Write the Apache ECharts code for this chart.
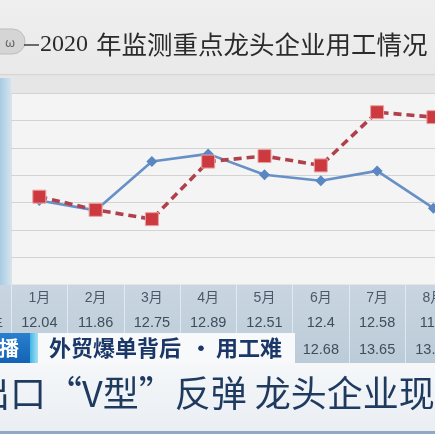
<!DOCTYPE html>
<html><head><meta charset="utf-8">
<script src="https://cdn.jsdelivr.net/npm/echarts@6/dist/echarts.min.js"></script>
<style>html,body{margin:0;padding:0;background:#ececec;overflow:hidden;}#c{width:470px;height:434px;}</style>
</head><body><div id="c"></div>
<script>
const months = ['1月','2月','3月','4月','5月','6月','7月','8月'];
const series2019 = [12.04, 11.86, 12.75, 12.89, 12.51, 12.4, 12.58, 11.9];
const series2020 = [12.11, 11.87, 11.7, 12.75, 12.85, 12.68, 13.65, 13.56];
const yMin = 10.5, yMax = 14, yStep = 0.5;
const titleYear = '2020';
const titleText = '年监测重点龙头企业用工情况';
const bannerTag = '播';
const bannerLeft = '外贸爆单背后';
const bannerRight = '用工难';
const captionText = '出口“V型”反弹 龙头企业现';

const CJK = '"Noto Sans CJK SC", sans-serif';
const labels2019 = series2019.map(String);
const labels2020 = series2020.map(String);
const gridLeft = 11.15, gridWidth = 450.4;
const W = 470;

const chart = echarts.init(document.getElementById('c'), null, {renderer: 'canvas'});
function valAxis(gi, data, margin, color) {
  return {type: 'category', gridIndex: gi, data: data, position: 'bottom', z: 3,
    axisLine: {show: false}, axisTick: {show: false}, splitLine: {show: false},
    axisLabel: {margin: margin, interval: 0, color: color, fontSize: 14.5,
      fontFamily: '"Liberation Sans", ' + CJK}};
}
chart.setOption({
  backgroundColor: '#ececec',
  animation: false,
  grid: [
    {left: gridLeft, top: 93, width: gridWidth, height: 192, show: true,
     backgroundColor: '#f4f4f4', borderColor: '#d9d9d9', borderWidth: 1, z: 0},
    {left: gridLeft, top: 285, width: gridWidth, height: 78, show: false}
  ],
  xAxis: [
    {type: 'category', gridIndex: 0, data: months, boundaryGap: true, z: 3,
     axisLine: {show: false}, axisTick: {show: false}, splitLine: {show: false},
     axisLabel: {margin: 6, interval: 0, color: '#4a5968', fontSize: 14, fontFamily: '"Liberation Sans", ' + CJK}},
    valAxis(0, labels2019, 31, '#3f4d5c'),
    valAxis(0, labels2020, 58, '#3f4d5c'),
    {type: 'category', gridIndex: 1, data: months, boundaryGap: true, z: 3,
     axisLine: {show: false}, axisTick: {show: false}, axisLabel: {show: false},
     splitLine: {show: true, interval: 0, lineStyle: {color: 'rgba(235,242,248,0.7)', width: 1}}}
  ],
  yAxis: [
    {type: 'value', gridIndex: 0, min: yMin, max: yMax, interval: yStep,
     axisLine: {show: false}, axisTick: {show: false}, axisLabel: {show: false},
     splitLine: {show: true, lineStyle: {color: '#d3d3d3', width: 1.2}}},
    {type: 'value', gridIndex: 1, show: false}
  ],
  series: [
    {type: 'line', name: '2019', xAxisIndex: 0, yAxisIndex: 0, data: series2019,
     symbol: 'diamond', symbolSize: 11,
     lineStyle: {color: '#6690c6', width: 2.6},
     itemStyle: {color: '#5a87c2'}, z: 3},
    {type: 'line', name: '2020', xAxisIndex: 0, yAxisIndex: 0, data: series2020,
     symbol: 'rect', symbolSize: 13,
     lineStyle: {color: '#b0414c', width: 3.6, type: [8, 5]},
     itemStyle: {color: '#cc3a40', borderColor: '#e9a3a3', borderWidth: 1}, z: 4}
  ],
  graphic: [
    {type: 'rect', z: 1, shape: {x: 0, y: 0, width: W, height: 74},
     style: {fill: new echarts.graphic.LinearGradient(0, 0, 0, 1, [{offset: 0, color: '#efefef'}, {offset: 1, color: '#e9e9e9'}])}},
    {type: 'rect', z: 1, shape: {x: 0, y: 74, width: W, height: 1.5}, style: {fill: '#d6d6d6'}},
    {type: 'rect', z: 1, shape: {x: 0, y: 76, width: W, height: 17}, style: {fill: '#e6e6e6'}},
    {type: 'rect', z: 1, shape: {x: 0, y: 78, width: 11, height: 255},
     style: {fill: new echarts.graphic.LinearGradient(0, 0, 1, 0, [{offset: 0, color: '#a9cbe3'}, {offset: 1, color: '#d2e3ef'}])}},
    {type: 'rect', z: 1, shape: {x: 0, y: 285, width: W, height: 78},
     style: {fill: new echarts.graphic.LinearGradient(0, 0, 0, 1, [{offset: 0, color: '#c9d6e1'}, {offset: 1, color: '#bccbd8'}])}},
    {type: 'rect', z: 5, shape: {x: -15, y: 29, width: 40, height: 25, r: 12.5},
     style: {fill: '#d5d5d5', stroke: '#bdbdbd', lineWidth: 1}},
    {type: 'text', z: 6, style: {x: 10, y: 42, text: 'ω', fill: '#666', fontSize: 13, align: 'center', verticalAlign: 'middle', fontFamily: CJK}},
    {type: 'line', z: 5, shape: {x1: 24, y1: 45, x2: 39, y2: 45}, style: {stroke: '#333', lineWidth: 1.4}},
    {type: 'text', z: 5, style: {x: 40, y: 45, text: titleYear, fill: '#2b2b2b', fontSize: 24,
      fontFamily: '"Liberation Serif", serif', verticalAlign: 'middle'}},
    {type: 'text', z: 5, style: {x: 96, y: 44, text: titleText, fill: '#2b2b2b', fontSize: 25.5,
      fontFamily: CJK, verticalAlign: 'middle'}},
    {type: 'text', z: 5, style: {x: -12, y: 323, text: '年', fill: '#3f4d5c', fontSize: 15, fontFamily: CJK, verticalAlign: 'middle'}},
    // banner
    {type: 'rect', z: 10, shape: {x: 0, y: 333, width: 30, height: 30},
     style: {fill: new echarts.graphic.LinearGradient(0, 0, 0, 1, [{offset: 0, color: '#2a7fcf'}, {offset: 1, color: '#1463b4'}])}},
    {type: 'rect', z: 10, shape: {x: 30, y: 333, width: 8, height: 30},
     style: {fill: new echarts.graphic.LinearGradient(0, 0, 1, 0, [{offset: 0, color: '#3fb6e6'}, {offset: 1, color: '#a8e0f3'}])}},
    {type: 'text', z: 11, style: {x: 9, y: 348, text: bannerTag, fill: '#ffffff', fontSize: 20, fontWeight: 'bold',
      fontFamily: CJK, align: 'center', verticalAlign: 'middle'}},
    {type: 'rect', z: 10, shape: {x: 38, y: 333, width: 257, height: 30}, style: {fill: '#f7f9fb'}},
    {type: 'text', z: 11, style: {x: 49, y: 348, text: bannerLeft, fill: '#1b3768', fontSize: 22, fontWeight: 'bold',
      fontFamily: CJK, verticalAlign: 'middle'}},
    {type: 'text', z: 11, style: {x: 201, y: 348, text: '·', fill: '#1b3768', fontSize: 22, fontWeight: 'bold',
      fontFamily: CJK, align: 'center', verticalAlign: 'middle'}},
    {type: 'text', z: 11, style: {x: 216, y: 348, text: bannerRight, fill: '#1b3768', fontSize: 22, fontWeight: 'bold',
      fontFamily: CJK, verticalAlign: 'middle'}},
    // caption
    {type: 'rect', z: 10, shape: {x: 0, y: 363, width: W, height: 71},
     style: {fill: new echarts.graphic.LinearGradient(0, 0, 0, 1, [{offset: 0, color: '#f5f7f9'}, {offset: 1, color: '#e9eef3'}])}},
    {type: 'rect', z: 10, shape: {x: 0, y: 431, width: W, height: 3}, style: {fill: '#8fa9c6'}},
    {type: 'text', z: 11, style: {x: -26, y: 393, text: captionText, fill: '#1f3a5f', fontSize: 36,
      fontFamily: CJK, verticalAlign: 'middle'}}
  ]
});
</script></body></html>
